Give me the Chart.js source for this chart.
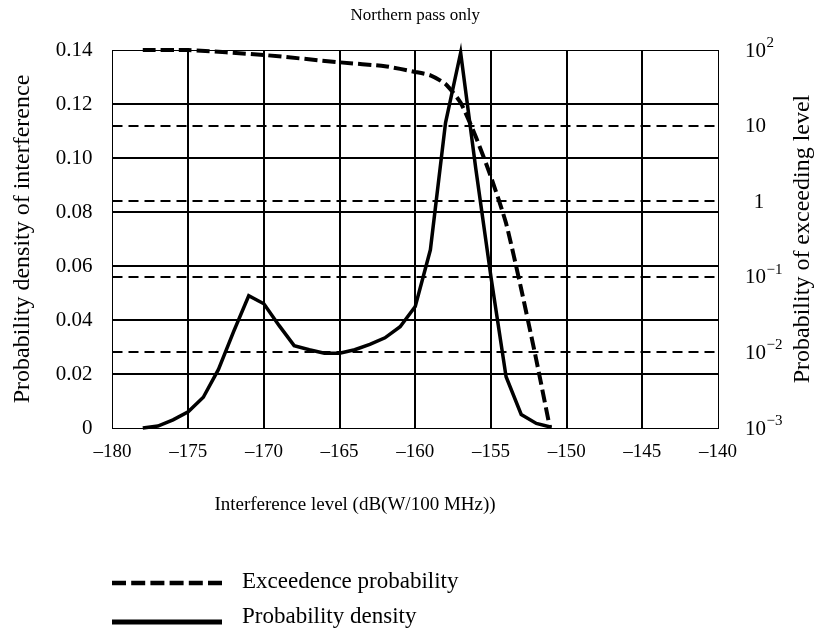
<!DOCTYPE html>
<html>
<head>
<meta charset="utf-8">
<title>Northern pass only</title>
<script src="https://cdn.jsdelivr.net/npm/chart.js@4"></script>
<style>
  html, body { margin: 0; padding: 0; background: #fff; }
  #wrap { width: 819px; height: 629px; position: relative; }
</style>
</head>
<body>
<div id="wrap"><canvas id="chart"></canvas></div>
<script>
// Chart data
const chartTitle = "Northern pass only";
const xTitle = "Interference level (dB(W/100 MHz))";
const leftTitle = "Probability density of interference";
const rightTitle = "Probability of exceeding level";

const xTicks = [-180, -175, -170, -165, -160, -155, -150, -145, -140];
const densityTicks = [0, 0.02, 0.04, 0.06, 0.08, 0.10, 0.12, 0.14];
const exceedTicks = [0.001, 0.01, 0.1, 1, 10, 100];
// base and exponent of the right-hand tick labels
const exceedTickBase = ["10", "10", "10", "1", "10", "10"];
const exceedTickExp = ["\u22123", "\u22122", "\u22121", "", "", "2"];

// Probability density (left axis)
const densityLevels = [-178, -177, -176, -175, -174, -173, -172, -171, -170, -169,
  -168, -167, -166, -165, -164, -163, -162, -161, -160, -159,
  -158, -157, -156, -155, -154, -153, -152, -151];
const densityValues = [0, 0.0007, 0.003, 0.006, 0.0114, 0.0217, 0.0357, 0.049, 0.046, 0.038,
  0.0305, 0.029, 0.0277, 0.0277, 0.029, 0.031, 0.0334, 0.0375, 0.045, 0.066,
  0.113, 0.139, 0.096, 0.056, 0.019, 0.005, 0.0017, 0.0003];

// Exceedence probability (right axis, %)
const exceedLevels = [-178, -175, -170, -165, -162, -160, -159, -158, -157, -156,
  -155, -154, -153, -152, -151.1];
const exceedValues = [100, 100, 85.9, 68.7, 61, 51.3, 46.2, 35.5, 20, 7.1,
  2.1, 0.51, 0.069, 0.0079, 0.001];

const legendItems = [
  { label: "Exceedence probability", dash: [14, 5.2], width: 4.5 },
  { label: "Probability density", dash: [], width: 5 },
];

const FONT = '"Liberation Serif", "Times New Roman", serif';

// title, right axis labels/title and legend drawn on the canvas
const extraText = {
  id: "extraText",
  afterDraw(chart) {
    const ctx = chart.ctx;
    const area = chart.chartArea;
    const y2 = chart.scales.y2;
    ctx.save();
    ctx.fillStyle = "#000";
    ctx.textBaseline = "middle";

    ctx.textAlign = "center";
    ctx.font = "17px " + FONT;
    ctx.fillText(chartTitle, (area.left + area.right) / 2, 16);

    ctx.font = "19px " + FONT;
    ctx.fillText(xTitle, 355, 505);

    ctx.save();
    ctx.font = "24px " + FONT;
    ctx.translate(803, (area.top + area.bottom) / 2);
    ctx.rotate(-Math.PI / 2);
    ctx.fillText(rightTitle, 0, 0);
    ctx.restore();

    // right axis tick labels with raised exponents
    exceedTicks.forEach((v, i) => {
      const y = y2.getPixelForValue(v) + 1;
      const base = exceedTickBase[i];
      ctx.font = "21px " + FONT;
      if (base === "1") {
        ctx.textAlign = "center";
        ctx.fillText(base, 759, y);
        return;
      }
      ctx.textAlign = "left";
      ctx.fillText(base, 745, y);
      const w = ctx.measureText(base).width;
      ctx.font = "15px " + FONT;
      ctx.fillText(exceedTickExp[i], 745 + w + 0.5, y - 8);
    });

    // legend
    ctx.textAlign = "left";
    ctx.textBaseline = "alphabetic";
    ctx.font = "23px " + FONT;
    legendItems.forEach((item, i) => {
      const y = 583 + i * 39;
      ctx.beginPath();
      ctx.setLineDash(item.dash);
      ctx.lineWidth = item.width;
      ctx.strokeStyle = "#000";
      ctx.moveTo(112, y);
      ctx.lineTo(222, y);
      ctx.stroke();
      ctx.setLineDash([]);
      ctx.fillText(item.label, 242, y + 5 - i * 4);
    });
    ctx.restore();
  },
};

const edgeWidth = (value, lo, hi) => (value === lo || value === hi ? 1 : 2);

new Chart(document.getElementById("chart"), {
  type: "line",
  data: {
    datasets: [
      {
        label: "Exceedence probability",
        data: exceedLevels.map((x, i) => ({ x: x, y: exceedValues[i] })),
        yAxisID: "y2",
        borderColor: "#000",
        borderWidth: 4,
        borderDash: [13, 5],
        pointRadius: 0,
        tension: 0.2,
        clip: false,
      },
      {
        label: "Probability density",
        data: densityLevels.map((x, i) => ({ x: x, y: densityValues[i] })),
        yAxisID: "y",
        borderColor: "#000",
        borderWidth: 3.5,
        pointRadius: 0,
        tension: 0,
        clip: false,
      },
    ],
  },
  options: {
    responsive: true,
    maintainAspectRatio: false,
    animation: false,
    events: [],
    layout: { padding: { top: 50, left: 0, right: 0, bottom: 0 } },
    plugins: { legend: { display: false }, tooltip: { enabled: false } },
    scales: {
      x: {
        type: "linear",
        min: -180,
        max: -140,
        afterBuildTicks: (scale) => { scale.ticks = xTicks.map((v) => ({ value: v })); },
        afterFit: (scale) => { scale.height = 201; },
        ticks: {
          color: "#000",
          padding: 13,
          font: { family: FONT, size: 19 },
          callback: (v) => String(v).replace("-", "\u2013"),
        },
        grid: {
          color: "#000",
          drawTicks: false,
          lineWidth: (c) => edgeWidth(c.tick && c.tick.value, -180, -140),
        },
        border: { display: true, color: "#000", width: 1 },
      },
      y: {
        position: "left",
        min: 0,
        max: 0.14,
        afterBuildTicks: (scale) => { scale.ticks = densityTicks.map((v) => ({ value: v })); },
        afterFit: (scale) => { scale.width = 112.5; },
        ticks: {
          color: "#000",
          padding: 20,
          font: { family: FONT, size: 21 },
          callback: (v) => (v === 0 ? "0" : v.toFixed(2)),
        },
        title: {
          display: true,
          text: leftTitle,
          color: "#000",
          font: { family: FONT, size: 24 },
          padding: { top: 8, bottom: 0 },
        },
        grid: {
          color: "#000",
          drawTicks: false,
          lineWidth: (c) => edgeWidth(c.tick && c.tick.value, 0, 0.14),
        },
        border: { display: true, color: "#000", width: 1 },
      },
      y2: {
        type: "logarithmic",
        position: "right",
        min: 0.001,
        max: 100,
        afterBuildTicks: (scale) => { scale.ticks = exceedTicks.map((v) => ({ value: v })); },
        afterFit: (scale) => { scale.width = 101; },
        ticks: { display: false },
        grid: {
          drawTicks: false,
          lineWidth: 2,
          color: (c) => {
            const v = c.tick && c.tick.value;
            return v === 0.001 || v === 100 ? "rgba(0,0,0,0)" : "#000";
          },
        },
        border: { display: true, color: "#000", width: 1, dash: [10, 6] },
      },
    },
  },
  plugins: [extraText],
});
</script>
</body>
</html>
